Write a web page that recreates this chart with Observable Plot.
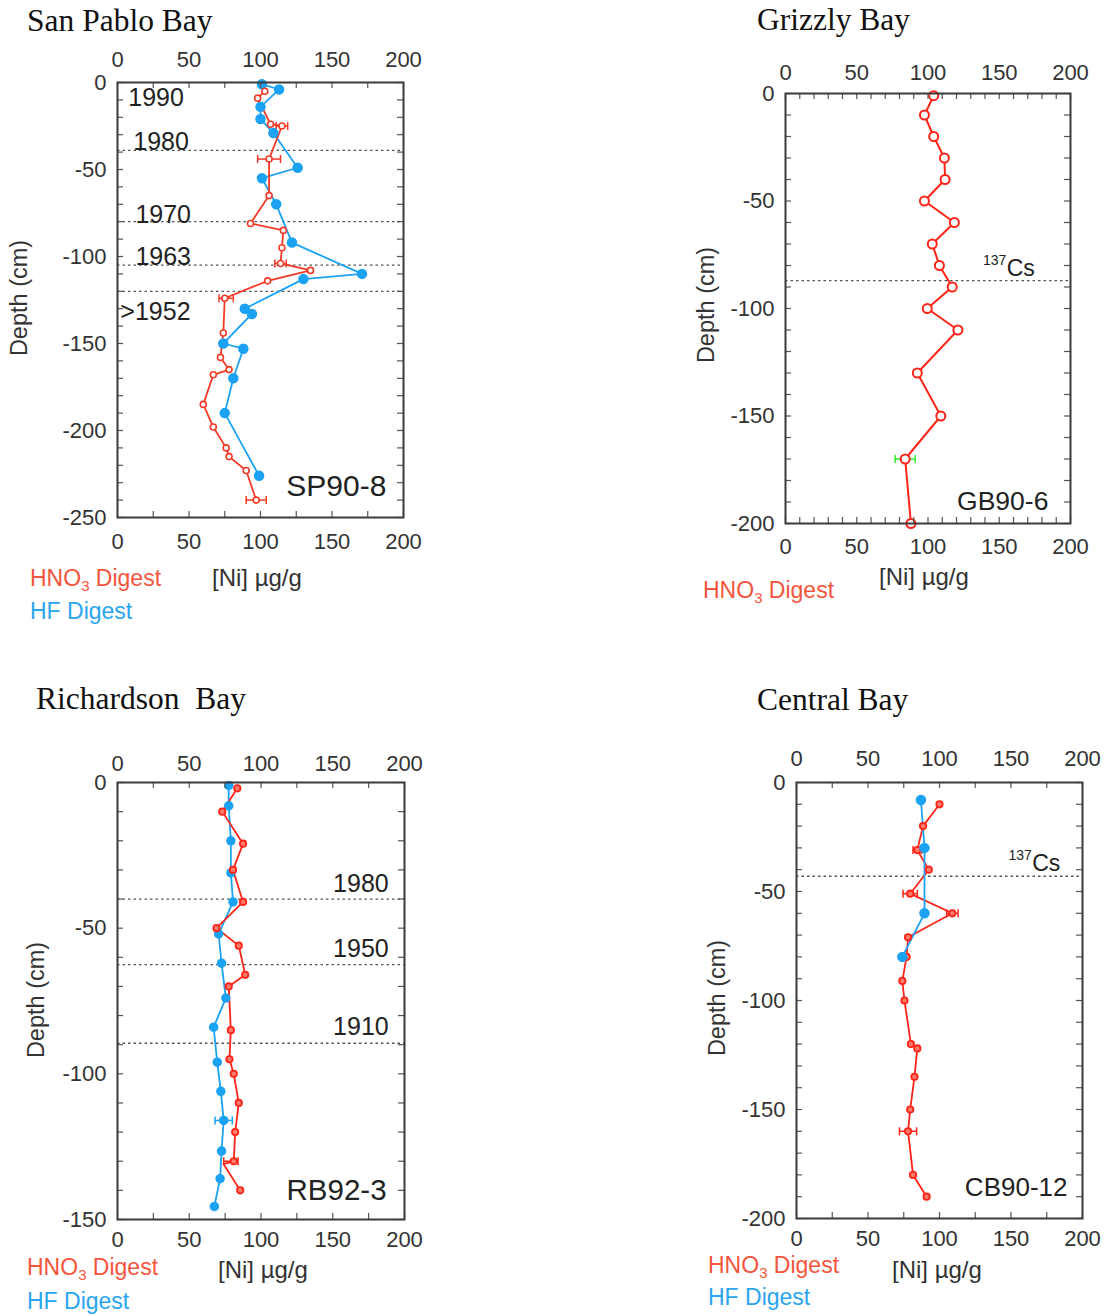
<!DOCTYPE html>
<html>
<head>
<meta charset="utf-8">
<script src="https://cdn.jsdelivr.net/npm/d3@7"></script>
<script src="https://cdn.jsdelivr.net/npm/@observablehq/plot@0.6"></script>
<style>
  html, body { margin: 0; padding: 0; background: #fff; }
  #root { position: relative; width: 1108px; height: 1316px; overflow: hidden; font-family: "Liberation Sans", Arial, sans-serif; }
  .panel { position: absolute; }
  .t { position: absolute; white-space: pre; line-height: 1; transform: translateY(-50%); }
  .title { font-family: "Liberation Serif", "Times New Roman", serif; font-size: 31.5px; color: #111; }
  .leg { font-size: 23px; }
  .red { color: #f4553c; }
  .blue { color: #2aa5ef; }
  .unit { color: #333; font-size: 24px; }
  .ylab { position: absolute; font-size: 23.5px; color: #333; white-space: pre; line-height: 1; transform: translate(-50%, -50%) rotate(-90deg); }
  sub { font-size: 15px; vertical-align: -5px; line-height: 0; }
</style>
</head>
<body>
<div id="root"></div>
<script>
// ---------------- DATA ----------------
// Shared x ticks
const xTickLabels = [0, 50, 100, 150, 200];

// San Pablo Bay, SP90-8
const spHno3Depth = [-5, -9, -24, -25, -44, -65, -81, -85, -95, -104, -108, -114, -124, -144, -158, -165, -168, -185, -198, -210, -215, -223, -240];
const spHno3Ni    = [103, 98, 107, 115, 106, 106, 93, 116, 115, 114, 135, 105, 75, 74, 72, 78, 67, 60, 67, 76, 78, 90, 97];
const spHfDepth   = [-1, -4, -14, -21, -29, -49, -55, -70, -92, -110, -113, -130, -133, -150, -153, -170, -190, -226];
const spHfNi      = [101, 113, 100, 100, 109, 126, 101, 111, 122, 171, 130, 89, 94, 74, 88, 81, 75, 99];
const spErrDepth  = [-25, -44, -104, -124, -240];
const spErrNi     = [115, 106, 114, 76, 97];
const spErrSize   = [4, 8, 4, 5, 7];
const spDateDepth = [-39, -80, -105, -120];
const spDateLabels = ["1990", "1980", "1970", "1963", ">1952"];
const spDateLabelX = [7.5, 11, 12.5, 12.5, 2];
const spDateLabelY = [-9, -34, -76, -100, -132];

// Grizzly Bay, GB90-6
const gbHno3Depth = [-1, -10, -20, -30, -40, -50, -60, -70, -80, -90, -100, -110, -130, -150, -170, -200];
const gbHno3Ni    = [104, 97.5, 104, 111.5, 112, 97.5, 118.5, 103, 108, 117, 99.5, 121, 92.5, 109, 84, 88];
const gbErrDepth  = [-170];
const gbErrNi     = [84];
const gbErrSize   = [7];
const gbCsDepth   = [-87];

// Richardson Bay, RB92-3
const rbHno3Depth = [-2, -10, -21, -30, -41, -50, -56, -66, -70, -85, -95, -100, -110, -120, -130, -131, -140];
const rbHno3Ni    = [83.5, 73, 87.5, 80.5, 87.5, 69, 84.5, 89, 77.5, 79, 78, 81, 84.5, 82, 81, 74, 85.5];
const rbHfDepth   = [-1, -8, -20, -31, -41, -52, -62, -74, -84, -96, -106, -116, -126.5, -136, -145.5];
const rbHfNi      = [77.5, 77.5, 79, 79, 80.5, 70.5, 72.5, 75.5, 67, 69.5, 72, 74, 72.5, 71.5, 67.5];
const rbHno3ErrDepth = [-130];
const rbHno3ErrNi    = [79];
const rbHno3ErrSize  = [5];
const rbHfErrDepth = [-116];
const rbHfErrNi    = [74];
const rbHfErrSize  = [6];
const rbDateDepth  = [-40, -62.5, -89.5];
const rbDateLabels = ["1980", "1950", "1910"];
const rbDateLabelY = [-35, -57, -84];

// Central Bay, CB90-12
const cbHno3Depth = [-10, -20, -31, -40, -51, -60, -71, -80, -91, -100, -120, -122, -135, -150, -160, -180, -190];
const cbHno3Ni    = [100, 88.5, 84.5, 92.5, 79.5, 109, 78, 77, 74, 75.5, 80, 84.5, 82.5, 79.5, 78, 81.5, 91];
const cbHfDepth   = [-8, -30, -60, -80];
const cbHfNi      = [87, 89.5, 89.5, 74];
const cbErrDepth  = [-31, -51, -60, -160];
const cbErrNi     = [84.5, 79.5, 109, 78];
const cbErrSize   = [3, 5, 4, 6];
const cbCsDepth   = [-43];

// ---------------- HELPERS ----------------
const RED = "#f33a26";
const RED2 = "#ff2418";
const BLUE = "#1ba2f2";
const GREEN = "#33ee33";
const zip = (ds, xs) => ds.map((d, i) => ({depth: d, ni: xs[i]}));
const zipErr = (ds, xs, es) => ds.map((d, i) => ({depth: d, ni: xs[i], e: es[i]}));
const vbar = { draw(ctx, size) { const h = Math.sqrt(size / Math.PI); ctx.moveTo(0, -h); ctx.lineTo(0, h); } };

function errMarks(data, color) {
  return [
    Plot.ruleY(data, {y: "depth", x1: d => d.ni - d.e, x2: d => d.ni + d.e, stroke: color, strokeWidth: 1.5}),
    Plot.dot(data, {y: "depth", x: d => d.ni - d.e, symbol: vbar, r: 4, stroke: color, strokeWidth: 1.5, fill: "none"}),
    Plot.dot(data, {y: "depth", x: d => d.ni + d.e, symbol: vbar, r: 4, stroke: color, strokeWidth: 1.5, fill: "none"})
  ];
}

function frameMarks(cfg) {
  const innerW = cfg.width - cfg.marginLeft - cfg.marginRight;
  const innerH = cfg.height - cfg.marginTop - cfg.marginBottom;
  const xMinor = d3.range(0, 201, cfg.xMinorStep);
  const yMinor = d3.range(cfg.yMin, 1, 10);
  const yLabels = d3.range(cfg.yMin, 1, 50);
  const tl = 6;
  return [
    Plot.tickX(xMinor, {x: d => d, insetBottom: innerH - tl, stroke: "#555", strokeWidth: 1.2}),
    Plot.tickX(xMinor, {x: d => d, insetTop: innerH - tl, stroke: "#555", strokeWidth: 1.2}),
    Plot.tickY(yMinor, {y: d => d, insetRight: innerW - tl, stroke: "#555", strokeWidth: 1.2}),
    Plot.tickY(yMinor, {y: d => d, insetLeft: innerW - tl, stroke: "#555", strokeWidth: 1.2}),
    Plot.axisX(xTickLabels, {anchor: "top", tickSize: 0, tickPadding: cfg.topPad, label: null, tickFormat: d => String(d)}),
    Plot.axisX(xTickLabels, {anchor: "bottom", tickSize: 0, tickPadding: cfg.botPad, label: null, tickFormat: d => String(d)}),
    Plot.axisY(yLabels, {anchor: "left", tickSize: 0, tickPadding: 11, label: null, tickFormat: d => String(d)}),
    Plot.frame({stroke: "#3a3a3a", strokeWidth: 2})
  ];
}

function makePlot(cfg, marks) {
  const p = Plot.plot({
    width: cfg.width, height: cfg.height,
    marginLeft: cfg.marginLeft, marginRight: cfg.marginRight,
    marginTop: cfg.marginTop, marginBottom: cfg.marginBottom,
    x: {domain: [0, 200], label: null},
    y: {domain: [cfg.yMin, 0], label: null},
    style: {fontSize: "22px", fontFamily: "'Liberation Sans', Arial, sans-serif", color: "#333", background: "transparent", overflow: "visible"},
    marks: [...marks, ...frameMarks(cfg)]
  });
  const wrap = document.createElement("div");
  wrap.className = "panel";
  wrap.style.left = cfg.left + "px";
  wrap.style.top = cfg.top + "px";
  wrap.appendChild(p);
  document.getElementById("root").appendChild(wrap);
}

function addText(html, cls, left, top) {
  const d = document.createElement("div");
  d.className = "t " + cls;
  d.style.left = left + "px";
  d.style.top = top + "px";
  d.innerHTML = html;
  document.getElementById("root").appendChild(d);
}
function addYLab(left, top) {
  const d = document.createElement("div");
  d.className = "ylab";
  d.style.left = left + "px";
  d.style.top = top + "px";
  d.textContent = "Depth (cm)";
  document.getElementById("root").appendChild(d);
}

const dotted = {stroke: "#555", strokeWidth: 1.3, strokeDasharray: "2.5,3"};

// ---------------- PANEL 1: San Pablo Bay ----------------
{
  const hno3 = zip(spHno3Depth, spHno3Ni);
  const hf = zip(spHfDepth, spHfNi);
  const err = zipErr(spErrDepth, spErrNi, spErrSize);
  const labels = spDateLabels.map((t, i) => ({t, x: spDateLabelX[i], y: spDateLabelY[i]}));
  makePlot({left: 0, top: 40, width: 430, height: 530, marginLeft: 117, marginRight: 27, marginTop: 42, marginBottom: 53, yMin: -250, xMinorStep: 25, topPad: 16, botPad: 16}, [
    Plot.ruleY(spDateDepth, {y: d => d, ...dotted}),
    Plot.text(labels, {x: "x", y: "y", text: "t", textAnchor: "start", fontSize: 25, fill: "#222"}),
    Plot.text(["SP90-8"], {x: [188], y: [-232], text: d => d, textAnchor: "end", fontSize: 30, fill: "#222"}),
    ...errMarks(err, RED),
    Plot.line(hf, {x: "ni", y: "depth", stroke: BLUE, strokeWidth: 1.8}),
    Plot.line(hno3, {x: "ni", y: "depth", stroke: RED, strokeWidth: 1.8}),
    Plot.dot(hf, {x: "ni", y: "depth", r: 4.5, fill: BLUE, stroke: BLUE}),
    Plot.dot(hno3, {x: "ni", y: "depth", r: 3, fill: "#fff", stroke: RED, strokeWidth: 1.6})
  ]);
  addText("San Pablo Bay", "title", 27, 21);
  addYLab(20, 298);
  addText("HNO<sub>3</sub> Digest", "leg red", 30, 578);
  addText("[Ni] µg/g", "leg unit", 212, 578);
  addText("HF Digest", "leg blue", 30, 611);
}

// ---------------- PANEL 2: Grizzly Bay ----------------
{
  const hno3 = zip(gbHno3Depth, gbHno3Ni);
  const err = zipErr(gbErrDepth, gbErrNi, gbErrSize);
  makePlot({left: 680, top: 50, width: 420, height: 530, marginLeft: 105, marginRight: 30, marginTop: 43, marginBottom: 57, yMin: -200, xMinorStep: 10, topPad: 14, botPad: 15}, [
    Plot.ruleY(gbCsDepth, {y: d => d, ...dotted}),
    Plot.text(["Cs"], {x: [175], y: [-81.5], text: d => d, textAnchor: "end", fontSize: 23, fill: "#222"}),
    Plot.text(["137"], {x: [155], y: [-81.5], text: d => d, textAnchor: "end", fontSize: 14, dy: -8, fill: "#222"}),
    Plot.text(["GB90-6"], {x: [184.5], y: [-190], text: d => d, textAnchor: "end", fontSize: 26.5, fill: "#222"}),
    ...errMarks(err, GREEN),
    Plot.line(hno3, {x: "ni", y: "depth", stroke: RED2, strokeWidth: 2}),
    Plot.dot(hno3, {x: "ni", y: "depth", r: 4.5, fill: "#fff", stroke: RED2, strokeWidth: 2})
  ]);
  addText("Grizzly Bay", "title", 757, 20);
  addYLab(707, 305);
  addText("HNO<sub>3</sub> Digest", "leg red", 703, 590);
  addText("[Ni] µg/g", "leg unit", 879, 577);
}

// ---------------- PANEL 3: Richardson Bay ----------------
{
  const hno3 = zip(rbHno3Depth, rbHno3Ni);
  const hf = zip(rbHfDepth, rbHfNi);
  const errR = zipErr(rbHno3ErrDepth, rbHno3ErrNi, rbHno3ErrSize);
  const errB = zipErr(rbHfErrDepth, rbHfErrNi, rbHfErrSize);
  const labels = rbDateLabels.map((t, i) => ({t, y: rbDateLabelY[i]}));
  makePlot({left: 0, top: 740, width: 430, height: 530, marginLeft: 117, marginRight: 26, marginTop: 42, marginBottom: 51, yMin: -150, xMinorStep: 25, topPad: 12, botPad: 12}, [
    Plot.ruleY(rbDateDepth, {y: d => d, ...dotted}),
    Plot.text(labels, {x: () => 189, y: "y", text: "t", textAnchor: "end", fontSize: 25, fill: "#222"}),
    Plot.text(["RB92-3"], {x: [187.5], y: [-140], text: d => d, textAnchor: "end", fontSize: 29.5, fill: "#222"}),
    ...errMarks(errR, RED2),
    ...errMarks(errB, BLUE),
    Plot.line(hf, {x: "ni", y: "depth", stroke: BLUE, strokeWidth: 1.8}),
    Plot.line(hno3, {x: "ni", y: "depth", stroke: RED2, strokeWidth: 1.8}),
    Plot.dot(hf, {x: "ni", y: "depth", r: 4, fill: BLUE, stroke: BLUE}),
    Plot.dot(hno3.filter(d => d.depth !== -131), {x: "ni", y: "depth", r: 3.2, fill: "#ff7a6a", stroke: RED2, strokeWidth: 1.8})
  ]);
  addText("Richardson  Bay", "title", 36, 699);
  addYLab(37, 1000);
  addText("HNO<sub>3</sub> Digest", "leg red", 27, 1267);
  addText("[Ni] µg/g", "leg unit", 218, 1270);
  addText("HF Digest", "leg blue", 27, 1301);
}

// ---------------- PANEL 4: Central Bay ----------------
{
  const hno3 = zip(cbHno3Depth, cbHno3Ni);
  const hf = zip(cbHfDepth, cbHfNi);
  const err = zipErr(cbErrDepth, cbErrNi, cbErrSize);
  makePlot({left: 690, top: 740, width: 418, height: 530, marginLeft: 106, marginRight: 26, marginTop: 42, marginBottom: 52, yMin: -200, xMinorStep: 25, topPad: 17, botPad: 12}, [
    Plot.ruleY(cbCsDepth, {y: d => d, ...dotted}),
    Plot.text(["Cs"], {x: [184.5], y: [-37], text: d => d, textAnchor: "end", fontSize: 23, fill: "#222"}),
    Plot.text(["137"], {x: [164.5], y: [-37], text: d => d, textAnchor: "end", fontSize: 14, dy: -8, fill: "#222"}),
    Plot.text(["CB90-12"], {x: [189.5], y: [-186], text: d => d, textAnchor: "end", fontSize: 26, fill: "#222"}),
    ...errMarks(err, RED2),
    Plot.line(hno3, {x: "ni", y: "depth", stroke: RED2, strokeWidth: 1.8}),
    Plot.line(hf, {x: "ni", y: "depth", stroke: BLUE, strokeWidth: 1.8}),
    Plot.dot(hno3, {x: "ni", y: "depth", r: 3.2, fill: "#ff7a6a", stroke: RED2, strokeWidth: 1.8}),
    Plot.dot(hf, {x: "ni", y: "depth", r: 4.5, fill: BLUE, stroke: BLUE})
  ]);
  addText("Central Bay", "title", 757, 700);
  addYLab(718, 998);
  addText("HNO<sub>3</sub> Digest", "leg red", 708, 1265);
  addText("[Ni] µg/g", "leg unit", 892, 1270);
  addText("HF Digest", "leg blue", 708, 1297);
}
</script>
</body>
</html>
